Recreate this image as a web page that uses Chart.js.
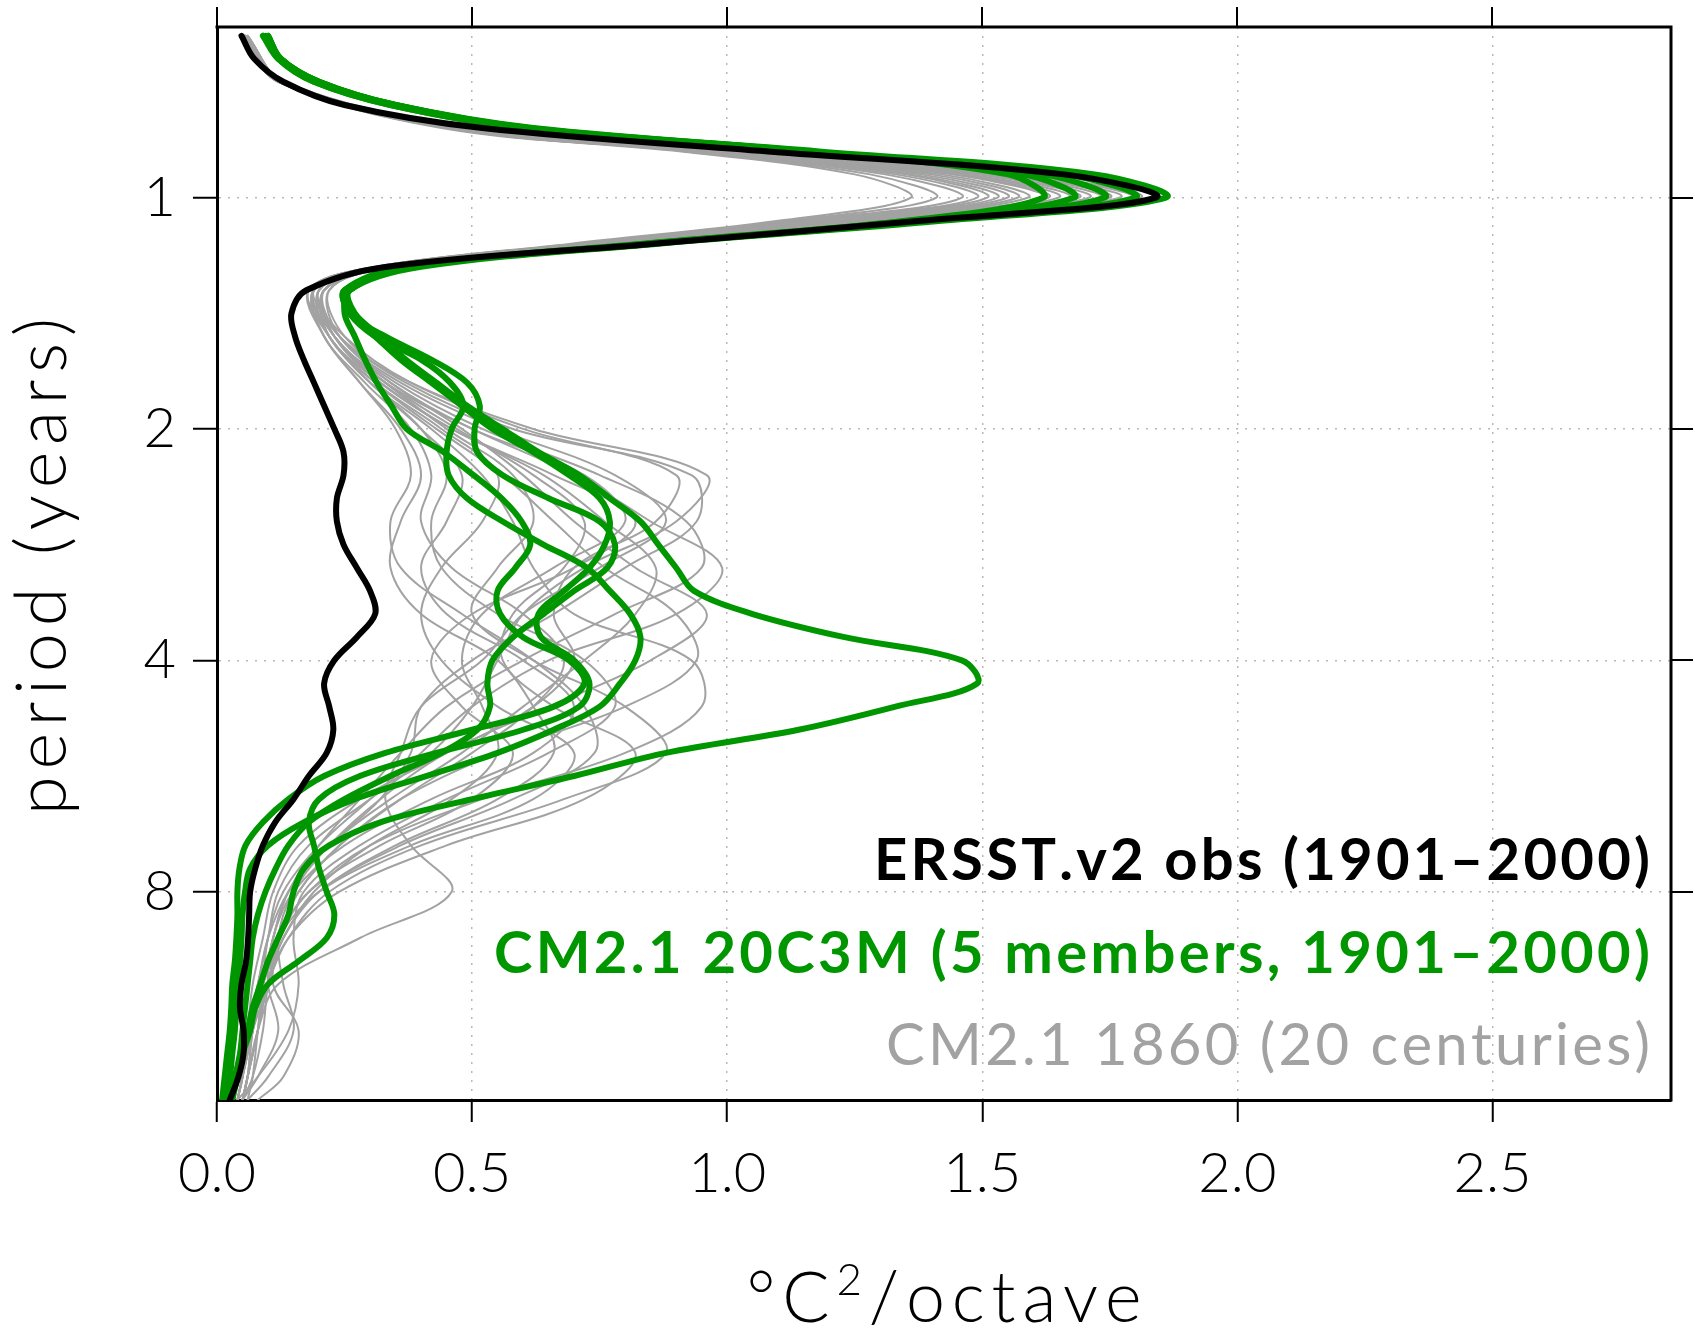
<!DOCTYPE html>
<html>
<head>
<meta charset="utf-8">
<script src="https://cdn.jsdelivr.net/npm/chart.js@4.4.1/dist/chart.umd.min.js"></script>
<style>
  html, body { margin: 0; padding: 0; background: #fff; }
  #wrap { width: 1695px; height: 1335px; }
</style>
</head>
<body>
<div id="wrap"><canvas id="chart" width="1695" height="1335"></canvas></div>
<script>
// period grid (years), 0.1 octave steps from ~7 months to ~15 years
const periods = [0.616, 0.660, 0.707, 0.758, 0.812, 0.871, 0.933, 1, 1.072, 1.149, 1.231, 1.320,
  1.414, 1.516, 1.625, 1.741, 1.866, 2, 2.144, 2.297, 2.462, 2.639, 2.828, 3.031, 3.249, 3.482,
  3.732, 4, 4.287, 4.595, 4.925, 5.278, 5.657, 6.063, 6.498, 6.964, 7.464, 8, 8.574, 9.190,
  9.849, 10.556, 11.314, 12.126, 12.996, 13.929, 14.929];

// coarser grid used for the 1860 control centuries
const grayPeriods = [0.616, 0.707, 0.812, 0.871, 0.933, 1, 1.072, 1.149, 1.231, 1.320, 1.516, 1.741,
  2, 2.297, 2.639, 3.031, 3.482, 4, 4.595, 5.278, 6.063, 6.964, 8, 9.190, 10.556, 12.126, 13.929, 14.929];

const xTicks = [0, 0.5, 1, 1.5, 2, 2.5];
const yTicks = [1, 2, 4, 8];

// ERSST.v2 obs (1901-2000), degC^2/octave
const ersst = [0.048, 0.073, 0.13, 0.25, 0.52, 1.08, 1.66, 1.84, 1.38, 0.85, 0.33, 0.175,
  0.146, 0.153, 0.17, 0.19, 0.21, 0.23, 0.248, 0.248, 0.235, 0.235, 0.248, 0.274, 0.30, 0.31,
  0.274, 0.23, 0.21, 0.22, 0.228, 0.215, 0.18, 0.15, 0.114, 0.09, 0.075, 0.065, 0.063, 0.061,
  0.057, 0.048, 0.045, 0.052, 0.052, 0.042, 0.025];

// CM2.1 20C3M members
const member1 = [0.10, 0.125, 0.20, 0.35, 0.61, 1.16, 1.55, 1.62, 1.35, 0.84, 0.38, 0.26,
  0.25, 0.27, 0.29, 0.313, 0.342, 0.372, 0.444, 0.503, 0.558, 0.597, 0.614, 0.585, 0.55, 0.555,
  0.60, 0.69, 0.72, 0.66, 0.50, 0.33, 0.21, 0.14, 0.09, 0.056, 0.044, 0.04, 0.04, 0.038,
  0.035, 0.03, 0.028, 0.025, 0.02, 0.015, 0.01];
const member2 = [0.09, 0.12, 0.19, 0.34, 0.60, 1.14, 1.58, 1.68, 1.36, 0.83, 0.37, 0.25,
  0.26, 0.31, 0.40, 0.457, 0.483, 0.46, 0.45, 0.454, 0.49, 0.56, 0.64, 0.725, 0.77, 0.81,
  0.83, 0.82, 0.79, 0.75, 0.66, 0.55, 0.41, 0.27, 0.17, 0.10, 0.065, 0.055, 0.05, 0.048,
  0.045, 0.04, 0.038, 0.035, 0.03, 0.025, 0.015];
const member3 = [0.10, 0.125, 0.20, 0.35, 0.61, 1.16, 1.62, 1.74, 1.38, 0.85, 0.38, 0.26,
  0.26, 0.33, 0.42, 0.49, 0.515, 0.505, 0.51, 0.56, 0.65, 0.75, 0.78, 0.765, 0.70, 0.64,
  0.58, 0.54, 0.53, 0.535, 0.51, 0.44, 0.34, 0.25, 0.18, 0.14, 0.115, 0.095, 0.08, 0.07,
  0.065, 0.06, 0.055, 0.05, 0.045, 0.035, 0.02];
const member4 = [0.095, 0.12, 0.19, 0.34, 0.60, 1.15, 1.66, 1.80, 1.40, 0.84, 0.38, 0.25,
  0.26, 0.31, 0.36, 0.42, 0.48, 0.54, 0.62, 0.69, 0.75, 0.77, 0.76, 0.73, 0.68, 0.63,
  0.635, 0.70, 0.73, 0.71, 0.60, 0.43, 0.28, 0.20, 0.18, 0.19, 0.20, 0.215, 0.23, 0.215,
  0.16, 0.10, 0.075, 0.065, 0.05, 0.035, 0.02];
const member5 = [0.10, 0.125, 0.20, 0.35, 0.62, 1.18, 1.72, 1.86, 1.42, 0.86, 0.40, 0.26,
  0.27, 0.32, 0.37, 0.43, 0.49, 0.56, 0.63, 0.71, 0.77, 0.83, 0.865, 0.90, 0.935, 1.05,
  1.23, 1.46, 1.49, 1.33, 1.14, 0.88, 0.70, 0.50, 0.32, 0.22, 0.17, 0.15, 0.14, 0.12,
  0.10, 0.085, 0.07, 0.06, 0.05, 0.04, 0.03];

// CM2.1 1860 control, 20 centuries (on grayPeriods)
const centuries = [
  [0.055, 0.125, 0.47, 0.97, 1.44, 1.62, 1.22, 0.74, 0.33, 0.20, 0.24, 0.38, 0.62, 0.96, 0.90, 0.72, 0.60, 0.55, 0.50, 0.42, 0.30, 0.18, 0.12, 0.10, 0.08, 0.06, 0.05, 0.04],
  [0.05, 0.12, 0.46, 0.95, 1.38, 1.55, 1.18, 0.72, 0.32, 0.19, 0.25, 0.38, 0.60, 0.90, 0.86, 0.70, 0.66, 0.70, 0.62, 0.45, 0.28, 0.16, 0.11, 0.09, 0.07, 0.06, 0.05, 0.04],
  [0.055, 0.125, 0.48, 0.98, 1.50, 1.71, 1.26, 0.75, 0.34, 0.21, 0.23, 0.33, 0.50, 0.70, 0.85, 0.99, 0.90, 0.65, 0.50, 0.40, 0.30, 0.20, 0.13, 0.10, 0.09, 0.08, 0.06, 0.05],
  [0.05, 0.12, 0.45, 0.93, 1.33, 1.49, 1.15, 0.71, 0.32, 0.19, 0.22, 0.30, 0.42, 0.52, 0.58, 0.62, 0.70, 0.93, 0.95, 0.80, 0.52, 0.30, 0.18, 0.12, 0.09, 0.07, 0.05, 0.04],
  [0.05, 0.12, 0.45, 0.92, 1.28, 1.41, 1.12, 0.70, 0.31, 0.18, 0.22, 0.30, 0.40, 0.48, 0.45, 0.40, 0.45, 0.60, 0.70, 0.62, 0.42, 0.25, 0.15, 0.11, 0.10, 0.12, 0.08, 0.05],
  [0.05, 0.12, 0.44, 0.91, 1.25, 1.36, 1.10, 0.69, 0.31, 0.18, 0.21, 0.28, 0.36, 0.40, 0.36, 0.34, 0.40, 0.55, 0.62, 0.66, 0.55, 0.35, 0.20, 0.13, 0.10, 0.08, 0.06, 0.05],
  [0.055, 0.125, 0.47, 0.97, 1.46, 1.65, 1.23, 0.74, 0.33, 0.21, 0.24, 0.36, 0.55, 0.78, 0.88, 0.75, 0.60, 0.52, 0.40, 0.36, 0.33, 0.38, 0.46, 0.28, 0.12, 0.08, 0.06, 0.05],
  [0.06, 0.13, 0.49, 0.99, 1.55, 1.77, 1.28, 0.76, 0.34, 0.21, 0.23, 0.34, 0.48, 0.60, 0.70, 0.82, 0.96, 0.85, 0.65, 0.45, 0.32, 0.22, 0.15, 0.12, 0.13, 0.15, 0.10, 0.06],
  [0.055, 0.125, 0.46, 0.95, 1.40, 1.57, 1.19, 0.73, 0.32, 0.20, 0.22, 0.32, 0.46, 0.66, 0.82, 0.70, 0.50, 0.42, 0.48, 0.58, 0.50, 0.32, 0.18, 0.12, 0.09, 0.07, 0.05, 0.04],
  [0.05, 0.12, 0.45, 0.93, 1.31, 1.46, 1.14, 0.71, 0.31, 0.19, 0.22, 0.31, 0.44, 0.55, 0.52, 0.44, 0.40, 0.44, 0.55, 0.70, 0.62, 0.38, 0.20, 0.12, 0.09, 0.07, 0.06, 0.05],
  [0.06, 0.13, 0.49, 1.00, 1.57, 1.79, 1.30, 0.77, 0.34, 0.22, 0.24, 0.35, 0.52, 0.75, 0.92, 0.95, 0.78, 0.60, 0.45, 0.36, 0.28, 0.20, 0.14, 0.11, 0.09, 0.08, 0.07, 0.06],
  [0.055, 0.125, 0.46, 0.94, 1.36, 1.53, 1.17, 0.72, 0.32, 0.19, 0.23, 0.33, 0.45, 0.58, 0.62, 0.55, 0.50, 0.62, 0.80, 0.88, 0.68, 0.40, 0.22, 0.14, 0.10, 0.08, 0.06, 0.05],
  [0.05, 0.12, 0.45, 0.94, 1.35, 1.51, 1.16, 0.71, 0.31, 0.18, 0.22, 0.30, 0.40, 0.45, 0.42, 0.44, 0.55, 0.72, 0.78, 0.65, 0.45, 0.28, 0.17, 0.15, 0.16, 0.14, 0.08, 0.04],
  [0.055, 0.125, 0.48, 0.98, 1.52, 1.73, 1.27, 0.75, 0.34, 0.22, 0.25, 0.37, 0.58, 0.93, 0.94, 0.80, 0.66, 0.50, 0.40, 0.38, 0.32, 0.22, 0.14, 0.10, 0.08, 0.06, 0.05, 0.04],
  [0.055, 0.125, 0.46, 0.96, 1.42, 1.59, 1.20, 0.73, 0.32, 0.19, 0.21, 0.29, 0.38, 0.42, 0.40, 0.46, 0.60, 0.68, 0.62, 0.50, 0.36, 0.24, 0.16, 0.12, 0.10, 0.09, 0.07, 0.05],
  [0.055, 0.125, 0.47, 0.97, 1.47, 1.67, 1.24, 0.74, 0.33, 0.20, 0.23, 0.33, 0.47, 0.62, 0.72, 0.68, 0.58, 0.56, 0.66, 0.82, 0.72, 0.45, 0.24, 0.14, 0.10, 0.08, 0.06, 0.05],
  [0.06, 0.13, 0.50, 1.00, 1.58, 1.81, 1.31, 0.77, 0.35, 0.21, 0.22, 0.31, 0.43, 0.56, 0.66, 0.76, 0.90, 0.94, 0.80, 0.55, 0.36, 0.24, 0.16, 0.12, 0.10, 0.07, 0.05, 0.04],
  [0.055, 0.125, 0.47, 0.96, 1.45, 1.63, 1.22, 0.74, 0.33, 0.20, 0.24, 0.34, 0.50, 0.72, 0.80, 0.66, 0.52, 0.48, 0.52, 0.55, 0.46, 0.30, 0.19, 0.13, 0.09, 0.07, 0.05, 0.04],
  [0.055, 0.125, 0.47, 0.98, 1.49, 1.69, 1.25, 0.75, 0.33, 0.19, 0.21, 0.28, 0.35, 0.38, 0.34, 0.36, 0.48, 0.62, 0.72, 0.74, 0.58, 0.36, 0.20, 0.13, 0.11, 0.16, 0.13, 0.08],
  [0.06, 0.13, 0.48, 0.99, 1.54, 1.75, 1.28, 0.76, 0.34, 0.21, 0.23, 0.32, 0.46, 0.64, 0.76, 0.86, 0.82, 0.72, 0.60, 0.48, 0.34, 0.22, 0.14, 0.11, 0.09, 0.07, 0.06, 0.05]
];

const BLACK = "#000000", GREEN = "#009600", GRAY = "#a2a2a2";
const FONT = "Lato, 'Liberation Sans', sans-serif";

const legendLines = [
  { text: "ERSST.v2 obs (1901–2000)", color: BLACK, weight: 700, y: 880, width: 776 },
  { text: "CM2.1 20C3M (5 members, 1901–2000)", color: GREEN, weight: 700, y: 973, width: 1156 },
  { text: "CM2.1 1860 (20 centuries)", color: GRAY, weight: 400, y: 1065, width: 764 }
];

function pts(ys, xs) {
  return xs.map((v, i) => ({ x: v, y: ys[i] }));
}

function line(label, data, color, width, order) {
  return {
    label, data, order,
    showLine: true,
    borderColor: color,
    borderWidth: width,
    pointRadius: 0,
    tension: 0.35,
    fill: false,
    borderJoinStyle: "round",
    borderCapStyle: "round"
  };
}

const datasets = [line("ERSST.v2 obs (1901–2000)", pts(periods, ersst), BLACK, 6, 0)];
[member1, member2, member3, member4, member5].forEach((m, i) => {
  datasets.push(line("20C3M member " + (i + 1), pts(periods, m), GREEN, 6, 1));
});
centuries.forEach((c, i) => {
  datasets.push(line("1860 century " + (i + 1), pts(grayPeriods, c), GRAY, 2, 2));
});

// draw text piece by piece, spread out to a given total width (wide plotter-style lettering)
// pieces: [text, fontSize, baselineShift]
function spaced(ctx, pieces, weight, x0, y0, target) {
  const chars = [];
  pieces.forEach(([t, size, dy]) => {
    for (const ch of t) chars.push({ ch, size, dy });
  });
  let natural = 0;
  chars.forEach(c => {
    ctx.font = `${weight} ${c.size}px ${FONT}`;
    c.w = ctx.measureText(c.ch).width;
    natural += c.w;
  });
  const gap = (target - natural) / (chars.length - 1);
  let x = x0;
  chars.forEach(c => {
    ctx.font = `${weight} ${c.size}px ${FONT}`;
    ctx.fillText(c.ch, x, y0 + c.dy);
    x += c.w + gap;
  });
}

/* frame on top/right, outer ticks, axis titles and the text key */
const decor = {
  id: "decor",
  afterDraw(chart) {
    const { ctx, chartArea: { left, right, top, bottom } } = chart;
    const sx = chart.scales.x, sy = chart.scales.y;
    ctx.save();
    ctx.strokeStyle = BLACK;
    ctx.lineWidth = 3;
    ctx.beginPath();
    ctx.moveTo(left - 1.5, top);
    ctx.lineTo(right, top);
    ctx.lineTo(right, bottom + 1.5);
    ctx.stroke();

    ctx.lineWidth = 2;
    ctx.beginPath();
    xTicks.forEach(v => {
      const px = Math.round(sx.getPixelForValue(v));
      ctx.moveTo(px, top);
      ctx.lineTo(px, top - 20);
    });
    yTicks.forEach(v => {
      const py = Math.round(sy.getPixelForValue(v));
      ctx.moveTo(right, py);
      ctx.lineTo(right + 22, py);
    });
    ctx.stroke();

    ctx.textBaseline = "alphabetic";
    ctx.textAlign = "left";

    // axis titles
    ctx.fillStyle = BLACK;
    const cx = (left + right) / 2;
    spaced(ctx, [["°C", 70, 0], ["2", 44, -27], ["/octave", 70, 0]], 300, cx - 395 / 2, 1322, 395);
    ctx.save();
    ctx.translate(66, (top + bottom) / 2 + 3);
    ctx.rotate(-Math.PI / 2);
    spaced(ctx, [["period (years)", 70, 0]], 300, -497 / 2, 0, 497);
    ctx.restore();

    // key
    legendLines.forEach(l => {
      ctx.fillStyle = l.color;
      spaced(ctx, [[l.text, 58, 0]], l.weight, 1650 - l.width, l.y, l.width);
    });
    ctx.restore();
  }
};

const tickFont = { family: FONT, size: 56, weight: 300 };

new Chart(document.getElementById("chart"), {
  type: "scatter",
  data: { datasets },
  plugins: [decor],
  options: {
    responsive: false,
    animation: false,
    devicePixelRatio: 1,
    layout: { padding: { top: 27, right: 24, left: 0, bottom: 0 } },
    plugins: { legend: { display: false }, tooltip: { enabled: false } },
    scales: {
      x: {
        type: "linear",
        position: "bottom",
        min: 0,
        max: 2.85,
        afterBuildTicks: a => { a.ticks = xTicks.map(value => ({ value })); },
        afterFit: s => { s.height = 235; s.paddingLeft = 0; s.paddingRight = 0; },
        ticks: { callback: v => v.toFixed(1), color: BLACK, font: tickFont, padding: 18, maxRotation: 0 },
        grid: { color: "#b8b8b8", lineWidth: 1.5, tickColor: BLACK, tickLength: 22, tickWidth: 2 },
        border: { color: BLACK, width: 3, dash: [2, 7] }
      },
      y: {
        type: "logarithmic",
        position: "left",
        reverse: true,
        min: 0.6156,
        max: 14.93,
        afterBuildTicks: a => { a.ticks = yTicks.map(value => ({ value })); },
        afterFit: s => { s.width = 217; s.paddingTop = 0; s.paddingBottom = 0; },
        ticks: { callback: v => String(v), color: BLACK, font: tickFont, padding: 17 },
        grid: { color: "#b8b8b8", lineWidth: 1.5, tickColor: BLACK, tickLength: 24, tickWidth: 2 },
        border: { color: BLACK, width: 3, dash: [2, 7] }
      }
    }
  }
});
</script>
</body>
</html>
